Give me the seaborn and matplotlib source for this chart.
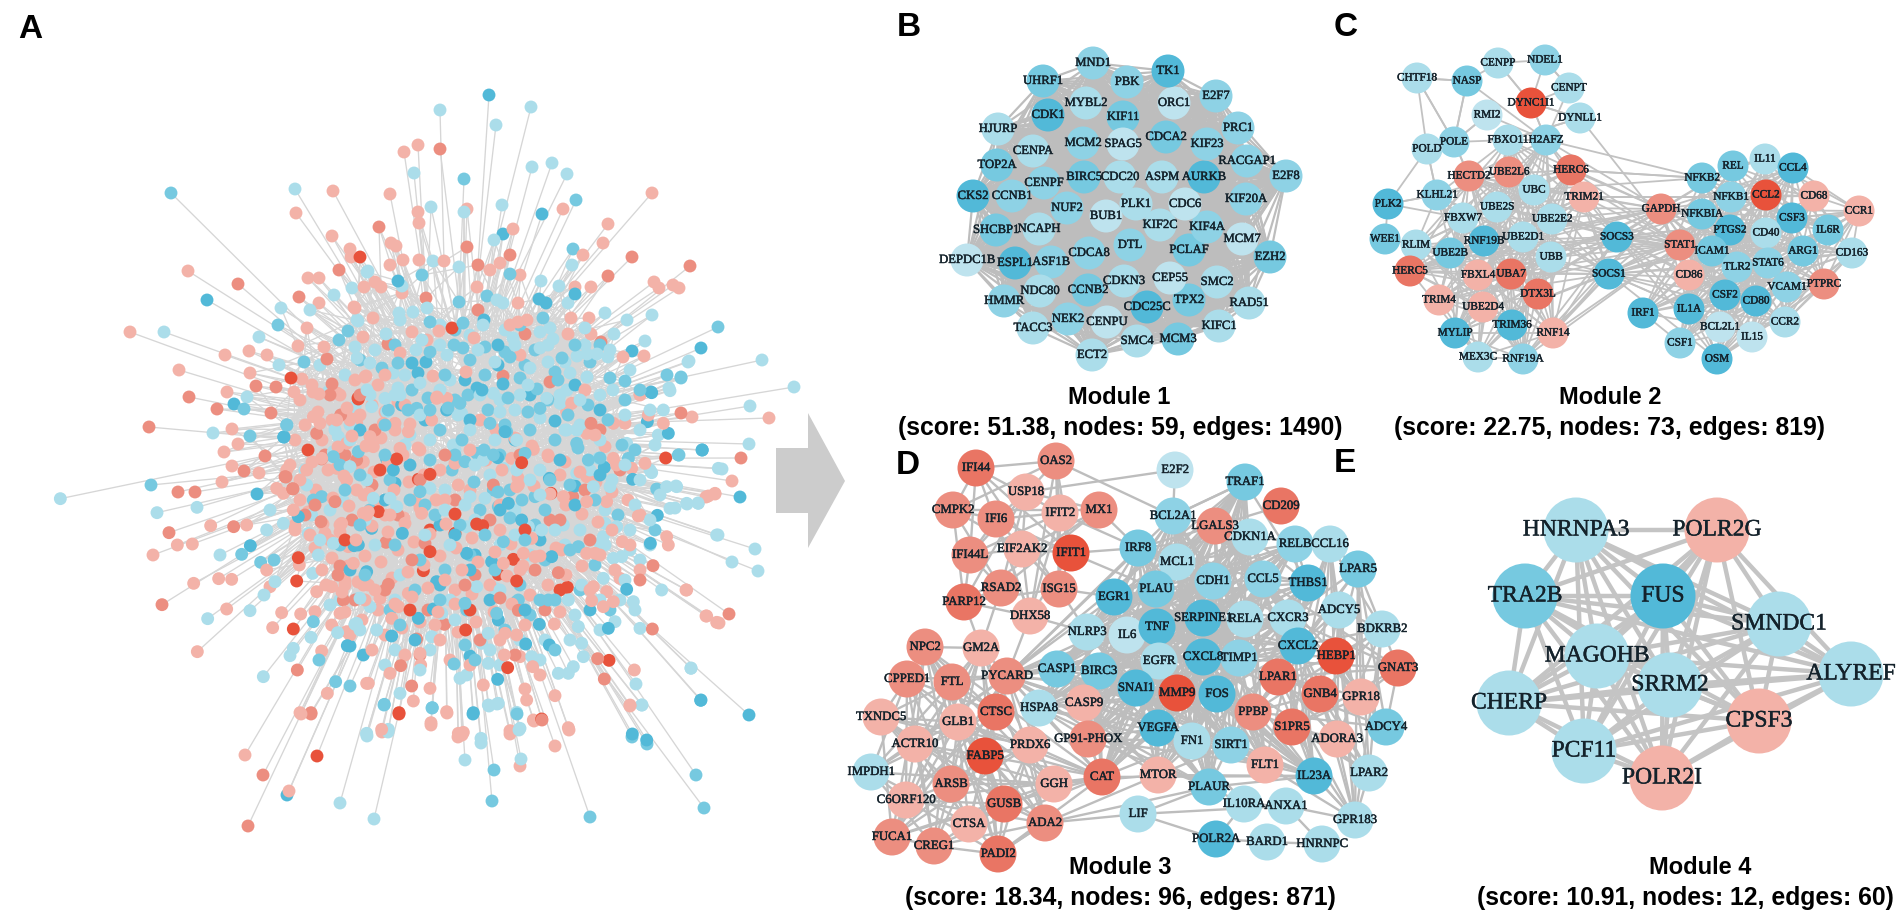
#!/usr/bin/env python3
from itertools import combinations

import numpy as np
import pandas as pd
import matplotlib
matplotlib.use("Agg")
import matplotlib.pyplot as plt
import matplotlib.patheffects as pe
from matplotlib.collections import LineCollection
import seaborn as sns

PALETTE = {"b0": "#BEE3EE", "b1": "#ABDDEA", "b2": "#8ED2E5", "b3": "#76C9E0", "b4": "#52B9D8",
           "r1": "#F3B2A8", "r2": "#EC8E80", "r3": "#E97564", "r4": "#E8523B"}

# Panel A, nodes read in figure pixels
A_R4 = [(360,257),(291,378),(452,328),(358,398),(308,450),(399,714),(317,756)]
A_R2 = [(339,270),(238,284),(299,297),(327,359),(256,386),(276,387),(332,384),(189,397),(440,149),(379,227),
        (467,247),(510,255),(632,257),(690,266),(478,265),(608,276),(426,298),(478,310),(388,344),(525,334),
        (601,342),(550,382),(503,376),(741,458),(681,413),(729,614),(263,775),(311,714),(248,826),(542,720),
        (217,409),(149,427),(271,413),(265,456),(244,471),(286,477),(178,492),(195,492),(293,489)]
A_R1 = [(333,191),(296,213),(332,236),(350,249),(351,257),(188,271),(308,278),(319,278),(364,287),(319,303),
        (354,307),(307,328),(130,332),(298,346),(324,347),(363,337),(249,351),(225,355),(267,355),(179,370),
        (250,373),(302,379),(365,377),(227,392),(294,392),(313,392),(319,394),(337,393),(418,145),(404,152),
        (652,193),(390,194),(418,212),(419,223),(467,209),(563,209),(608,224),(513,229),(391,243),(396,246),
        (583,255),(603,243),(390,265),(403,260),(419,260),(444,261),(490,270),(500,263),(520,275),(375,282),
        (381,287),(575,287),(591,287),(654,282),(659,288),(673,285),(679,288),(477,287),(402,293),(518,303),
        (571,318),(589,318),(355,308),(373,318),(510,325),(518,322),(527,320),(412,332),(439,331),(427,340),
        (474,338),(568,334),(591,334),(644,356),(623,357),(640,394),(585,390),(520,355),(466,372),(433,376),
        (366,376),(378,385),(400,353),(437,397),(692,417),(769,418),(732,481),(706,497),(715,494),(686,590),
        (706,616),(719,623),(245,755),(301,714),(289,791),(382,732),(431,725),(447,713),(458,737),(462,735),
        (510,734),(520,766),(534,721),(569,730),(555,746),(630,706),(232,429),(238,444),(224,452),(232,466),
        (259,473),(222,482)]
A_B4 = [(207,300),(489,95),(542,214),(503,234),(398,281),(575,294),(539,299),(546,303),(484,320),(498,345),
        (632,351),(701,348),(651,392),(498,365),(503,384),(477,388),(482,390),(426,362),(412,363),(418,373),
        (702,450),(740,497),(701,700),(749,715),(287,795),(473,714),(234,404),(284,437),(257,494)]
A_B3 = [(171,193),(278,325),(348,331),(339,340),(304,362),(464,179),(576,200),(573,249),(510,274),(487,296),
        (459,302),(543,318),(463,323),(430,322),(718,327),(667,375),(681,378),(625,381),(558,380),(537,389),
        (562,358),(525,365),(510,357),(485,347),(463,348),(454,345),(398,363),(382,368),(681,377),(679,455),
        (384,705),(432,708),(494,770),(492,801),(517,714),(632,737),(647,744),(696,775),(704,808),(590,817),
        (244,409),(250,436),(287,425),(151,485),(422,275)]
A_B1 = [(295,189),(367,272),(352,288),(334,295),(281,308),(310,310),(357,320),(259,337),(164,332),(279,365),
        (367,390),(328,392),(247,397),(440,110),(531,107),(496,125),(414,173),(532,167),(552,163),(567,174),
        (431,207),(464,212),(502,205),(494,240),(433,261),(459,267),(572,265),(368,271),(541,281),(559,286),
        (402,286),(497,300),(503,303),(568,303),(605,313),(627,320),(652,315),(427,308),(413,312),(399,313),
        (400,320),(358,321),(386,334),(483,325),(540,332),(553,339),(614,334),(645,341),(577,356),(587,354),
        (597,354),(608,357),(689,361),(669,388),(587,377),(570,373),(613,390),(567,390),(548,362),(540,348),
        (513,338),(528,385),(450,380),(447,355),(420,383),(398,388),(393,373),(416,350),(370,363),(357,358),
        (355,347),(794,387),(688,362),(762,360),(750,406),(749,444),(722,469),(676,486),(675,508),(687,504),
        (698,503),(718,535),(755,549),(732,562),(758,571),(691,668),(367,736),(388,732),(340,803),(374,819),
        (489,706),(497,704),(481,743),(465,760),(519,730),(521,759),(642,705),(213,433)]

RIGHT_R4 = [(25,27),(140,207),(240,253),(205,268),(85,365),(315,372),(398,407),(380,402),(315,430),(240,485),
            (220,542),(500,573),(652,592),(445,553),(490,508),(515,218),(947,204),(347,720),(473,833),(147,968),
            (575,987),(777,811),(603,310)]
RIGHT_R2 = [(723,100),(108,457),(225,460),(625,548),(505,661),(283,703),(200,747),(152,827),(185,888),(743,806),
            (763,867),(907,717),(909,527),(870,570),(430,285),(668,320),(600,390),(115,583),(20,210)]
RIGHT_R1 = [(10,65),(135,100),(175,125),(100,100),(60,140),(70,170),(40,215),(210,180),(260,25),(290,25),
            (245,90),(150,175),(315,220),(325,285),(285,330),(215,370),(55,365),(165,400),(120,375),(500,290),
            (505,285),(550,178),(595,200),(485,205),(450,420),(545,445),(520,490),(460,520),(510,540),(635,480),
            (735,490),(710,490),(555,500),(315,600),(175,610),(90,625),(55,585),(145,650),(125,685),(210,790),
            (212,825),(120,850),(55,880),(240,895),(190,933),(290,965),(243,998),(95,1018),(325,1030),(340,1027),
            (480,1022),(550,990),(655,1013),(615,917),(530,930),(525,897),(570,855),(400,885),(510,800),(463,795),
            (548,830),(500,735),(465,730),(613,702),(725,632),(770,605),(790,635),(760,650),(730,590),(810,565),
            (870,540),(817,455),(865,378),(1010,600),(1070,678),(1100,697),(853,840),(840,945),(950,440),(955,465),
            (1075,318),(1095,310),(940,100),(895,75),(870,15),(790,100),(825,100),(885,220),(790,205),(800,225),
            (845,235),(710,260),(640,320),(710,335),(770,335),(665,40),(650,65),(710,130),(765,170),(735,135)]
RIGHT_B1 = [(150,15),(105,25),(65,50),(110,65),(15,50),(335,70),(360,95),(450,30),(430,10),(495,60),
            (630,40),(590,25),(650,120),(680,120),(500,150),(400,210),(310,165),(240,295),(120,325),(70,325),
            (360,320),(405,325),(140,350),(285,360),(350,410),(535,410),(640,405),(575,420),(495,435),(500,240),
            (460,235),(680,250),(730,290),(780,290),(745,205),(830,160),(940,60),(905,248),(980,290),(950,290),
            (960,355),(1010,340),(1045,340),(765,400),(760,440),(800,410),(750,460),(840,480),(790,505),(815,500),
            (695,585),(760,565),(655,630),(850,635),(855,660),(795,695),(685,710),(695,760),(700,800),(380,590),
            (435,595),(30,625),(135,630),(20,700),(80,720),(245,740),(415,730),(395,760),(415,820),(545,800),
            (625,850),(655,850),(670,830),(330,865),(350,855),(150,910),(415,945),(445,940),(500,967),(510,1015),
            (50,1032),(115,1018),(393,1045),(960,2),(935,600),(1023,835),(875,945),(858,882),(870,715),(1100,435),
            (1105,235),(925,135),(275,670),(60,650)]
RIGHT_B3 = [(570,55),(200,55),(240,60),(330,40),(315,30),(420,100),(470,125),(380,190),(345,215),(210,305),
            (115,60),(430,300),(445,350),(555,320),(525,190),(430,195),(835,205),(680,160),(715,210),(460,455),
            (570,630),(595,630),(345,640),(350,660),(440,670),(685,470),(505,630),(312,822),(920,297),(103,943),
            (247,953),(985,195)]
RIGHT_B4 = [(390,5),(155,45),(905,8),(290,60),(615,93),(465,125),(25,465),(892,95),(955,130),(443,203),
            (110,207),(763,232),(598,265),(675,288),(848,268),(130,240),(135,280),(65,415),(157,430),(270,405),
            (375,495),(515,390),(475,340),(605,500),(425,515),(360,540),(260,575),(12,467),(350,490),(830,598),
            (922,376),(901,460),(1057,180),(250,657),(445,690),(568,703),(500,635),(775,715),(527,762),(598,765),
            (360,798),(443,868),(370,968),(1052,931),(847,1032),(890,1050),(40,795),(125,738),(0,768),(205,685)]
LEFT_R1 = [(940,80),(960,100),(1010,90),(1025,75),(1050,90),(1070,100),(1030,160),(1040,160),(965,205),(920,240),
           (1010,235),(1040,270),(1070,300),(1105,310),(1090,370),(830,295),(850,310),(880,360),(1025,400),(975,430),
           (1020,405),(885,405),(740,405),(632,407),(532,465),(577,462),(459,495),(656,566),(695,568),(581,580),
           (800,540),(810,590),(898,525),(950,605),(995,590),(1035,572),(845,668),(902,672),(945,665),(1020,670),
           (995,705),(1040,725),(818,713),(680,657),(592,785),(965,783),(982,910),(900,968),(1100,880),(1045,470),
           (1060,520),(1090,585),(860,240),(1100,375)]
LEFT_R2 = [(701,410),(507,428),(486,644),(1020,528),(963,395),(855,260),(878,296),(1030,630),(892,840),(933,968),
           (950,130),(1022,75),(1060,65),(965,207),(1005,335)]
LEFT_R4 = [(890,573),(895,503),(880,717)]
LEFT_B1 = [(810,360),(850,400),(800,420),(925,430),(935,375),(1030,333),(1000,95),(1015,140),(1050,230),(1000,185),
           (920,285),(955,495),(938,550),(825,575),(792,615),(750,662),(623,686),(990,645),(1075,625),(1065,703),
           (1013,728),(933,742),(880,775),(870,797),(790,860),(1100,1030),(471,368),(591,352),(181,326),(660,495),
           (1100,270),(1000,460),(1050,150)]
LEFT_B3 = [(725,493),(782,517),(822,510),(1075,185),(940,330),(965,320),(1000,200),(860,105),(957,810),(1007,875),
           (1050,888),(1090,795),(940,695),(1080,405),(1062,467)]
LEFT_B4 = [(851,141),(751,467),(1042,767),(1100,545),(895,380)]

# Panel A, the packed middle: too overlapped to read one by one, placed by eye
FILL_R1 = [(318,412),(332,420),(347,408),(360,415),(372,405),(385,412),(398,402),(305,425),(322,440),(338,447),
           (352,436),(366,446),(381,438),(395,430),(410,424),(312,462),(328,470),(344,476),(358,466),(374,472),
           (388,462),(403,455),(418,448),(300,480),(316,490),(333,498),(349,506),(364,495),(379,503),(394,490),
           (409,482),(424,475),(308,512),(323,524),(340,532),(356,540),(372,526),(388,532),(404,518),(420,508),
           (436,500),(315,548),(332,558),(348,566),(365,556),(381,562),(398,550),(414,542),(430,534),(446,524),
           (326,585),(342,592),(358,582),(375,590),(392,578),(408,572),(424,565),(440,556),(456,548),(472,538),
           (345,612),(362,620),(378,610),(395,604),(412,597),(428,588),(445,580),(462,570),(478,562),(495,552),
           (511,544),(385,635),(402,628),(420,622),(438,612),(455,604),(472,594),(490,585),(507,576),(523,566),
           (540,556),(556,548),(440,640),(458,632),(476,622),(494,612),(512,604),(530,595),(548,585),(566,575),
           (582,566),(600,555),(470,450),(486,460),(502,470),(518,478),(534,486),(550,494),(566,505),(582,514),
           (598,522),(612,530),(480,420),(496,430),(515,438),(532,446),(548,455),(565,462),(580,472),(596,482),
           (612,492),(628,500),(300,400),(312,385),(340,395),(355,380),(385,375),(405,405),(295,440),(290,465),
           (300,500),(295,530),(310,535),(330,540),(322,570),(345,585),(365,600),(350,635),(372,650),(405,655),
           (435,625),(450,660),(470,665),(500,640),(525,625),(560,612),(590,590),(615,570),(630,545),(640,515),
           (500,505),(470,490),(415,500),(385,515),(440,470),(560,475)]
FILL_R2 = [(330,395),(345,455),(372,485),(315,505),(398,515),(352,520),(412,560),(338,575),(385,590),(428,610),
           (465,585),(500,598),(535,570),(455,500),(490,520),(520,455),(560,520),(590,540),(620,470),(545,610),
           (480,640),(420,480),(375,430),(600,430),(325,455),(305,515),(355,600),(420,655),(515,655),(475,575),
           (445,455),(585,490),(360,395)]
FILL_R4 = [(380,470),(430,530),(470,610),(525,530),(345,540),(410,610),(560,590)]
FILL_B3 = [(395,345),(412,390),(430,352),(445,375),(470,360),(485,375),(505,352),(520,378),(535,350),(555,372),
           (575,345),(590,362),(610,378),(625,400),(385,425),(408,410),(428,398),(448,408),(468,395),(488,410),
           (508,398),(528,412),(548,400),(568,415),(588,405),(608,420),(440,430),(462,440),(484,450),(505,425),
           (530,430),(555,440),(578,448),(600,458),(622,445),(430,460),(452,470),(474,482),(498,492),(522,500),
           (545,510),(570,485),(595,500),(618,515),(360,475),(390,480),(345,490),(410,500),(435,515),(460,525),
           (485,535),(510,518),(535,525),(370,510),(395,545),(420,560),(445,570),(470,555),(495,570),(520,585),
           (545,560),(570,550),(595,565),(340,545),(365,575),(390,610),(415,590),(440,600),(465,645),(505,630),
           (530,615),(555,600),(580,590),(360,360),(455,330),(520,325),(600,345),(640,390),(635,450),(655,530),
           (610,610),(555,650),(475,660),(400,625),(425,505),(510,490),(550,480),(480,510),(525,540),(455,455),
           (500,455),(385,455),(340,465)]
FILL_B1 = [(405,375),(422,340),(440,345),(478,350),(495,362),(515,345),(530,368),(548,345),(565,362),(585,345),
           (600,395),(625,415),(640,430),(395,395),(420,415),(440,390),(458,415),(480,395),(500,412),(520,395),
           (540,418),(560,395),(580,425),(600,440),(625,465),(640,480),(350,425),(370,395),(455,450),(475,465),
           (495,440),(520,465),(540,470),(565,430),(590,470),(612,480),(635,505),(650,470),(405,445),(430,440),
           (445,490),(465,505),(490,475),(515,510),(540,495),(580,530),(605,545),(630,530),(650,520),(330,510),
           (375,545),(400,575),(425,535),(450,545),(475,520),(500,545),(530,555),(555,530),(340,600),(360,630),
           (395,650),(430,650),(455,620),(490,650),(520,640),(545,640),(575,615),(600,600),(625,580),(640,560),
           (320,365),(345,375),(375,350),(440,325),(470,335),(505,330),(550,328),(585,328),(610,350),(630,370),
           (650,410),(655,445),(660,495),(650,545),(620,600),(600,630),(570,640),(540,660),(500,665),(420,670),
           (385,665),(470,430),(530,480),(580,400),(410,435),(445,510),(500,590),(450,600),(320,540),(305,470),
           (335,430),(365,520),(605,510),(565,545)]
FILL_B4 = [(425,420),(470,420),(515,440),(560,460),(600,475),(410,465),(455,535),(500,510),(540,540),(575,505),
           (385,500),(360,430),(440,585),(490,600),(525,610),(465,380),(530,395),(575,385),(600,410),(350,570),
           (415,640),(590,610)]

# Module 1
B_NAMES = ["MND1","UHRF1","PBK","MYBL2","CDK1","KIF11","HJURP","CENPA","MCM2","SPAG5",
           "TOP2A","CENPF","BIRC5","CDC20","CKS2","CCNB1","NUF2","BUB1","PLK1","SHCBP1",
           "NCAPH","DTL","DEPDC1B","ESPL1","ASF1B","CDCA8","NDC80","CCNB2","CDKN3","HMMR",
           "TACC3","NEK2","CENPU","ECT2","SMC4","MCM3","CDC25C","TPX2","CEP55","SMC2",
           "RAD51","KIFC1","EZH2","MCM7","PCLAF","KIF4A","KIF2C","CDC6","KIF20A","AURKB",
           "ASPM","E2F8","RACGAP1","KIF23","CDCA2","PRC1","E2F7","ORC1","TK1"]
B_X = [1093,1043,1127,1086,1048,1123,998,1033,1083,1123,
       997,1044,1084,1120,973,1012,1067,1106,1136,996,
       1039,1130,967,1015,1051,1089,1040,1088,1124,1004,
       1033,1068,1107,1092,1137,1178,1147,1189,1170,1217,
       1249,1219,1270,1242,1189,1207,1160,1185,1246,1204,
       1162,1286,1247,1207,1166,1238,1216,1174,1168]
B_Y = [63,81,82,103,115,117,129,151,143,144,
       165,183,177,177,196,196,208,216,204,230,
       229,245,260,263,262,253,291,290,281,301,
       328,319,322,355,341,339,307,300,278,282,
       303,326,257,239,250,227,225,204,199,177,
       177,176,161,144,137,128,96,103,71]
B_LEVEL = ["b2","b3","b2","b1","b4","b3","b1","b1","b2","b0",
           "b3","b2","b3","b1","b4","b2","b2","b0","b1","b3",
           "b1","b2","b0","b4","b2","b2","b1","b3","b1","b2",
           "b1","b2","b0","b1","b1","b3","b4","b3","b0","b1",
           "b1","b1","b3","b0","b3","b2","b1","b0","b2","b4",
           "b1","b2","b2","b2","b3","b2","b2","b0","b4"]

# Module 2
C_NAMES = ["CENPP","NDEL1","CHTF18","NASP","CENPT","DYNC1I1","DYNLL1","RMI2","H2AFZ","FBXO11",
           "POLE","POLD","HERC6","HECTD2","UBE2L6","UBC","TRIM21","KLHL21","UBE2S","PLK2",
           "FBXW7","UBE2E2","WEE1","RLIM","RNF19B","UBE2D1","UBE2B","UBB","HERC5","FBXL4",
           "UBA7","DTX3L","TRIM4","UBE2D4","MYLIP","TRIM36","RNF14","MEX3C","RNF19A","SOCS3",
           "SOCS1","GAPDH","STAT1","NFKB2","REL","IL11","CCL4","NFKB1","CCL2","CD68",
           "CCR1","NFKBIA","CSF3","PTGS2","CD40","IL6R","ICAM1","ARG1","CD163","TLR2",
           "STAT6","CD86","PTPRC","VCAM1","CSF2","CD80","IL1A","IRF1","CCR2","BCL2L1",
           "IL15","CSF1","OSM"]
C_X = [1498,1545,1417,1467,1569,1531,1580,1487,1546,1508,
       1454,1427,1571,1469,1509,1534,1584,1437,1497,1388,
       1463,1552,1385,1416,1484,1523,1450,1551,1410,1478,
       1511,1538,1439,1483,1455,1512,1553,1478,1523,1617,
       1609,1661,1680,1702,1733,1765,1793,1731,1766,1814,
       1859,1702,1792,1730,1766,1828,1712,1803,1852,1737,
       1768,1689,1824,1787,1725,1756,1689,1643,1785,1720,
       1752,1680,1717]
C_Y = [63,60,78,81,88,103,118,115,140,140,
       142,149,170,176,172,190,197,195,207,204,
       218,219,239,245,241,237,253,257,271,275,
       274,294,300,307,333,325,333,357,359,237,
       274,209,245,178,166,159,168,197,195,196,
       211,214,218,230,233,230,251,251,253,267,
       263,275,284,287,295,301,309,313,322,327,
       337,343,359]
C_LEVEL = ["b1","b2","b1","b3","b1","r4","b1","b0","b2","b1",
           "b2","b1","r3","r2","r2","b1","r1","b2","b1","b4",
           "b1","b1","b3","b1","b4","b1","b3","b1","r3","r1",
           "r3","r3","r1","r1","b4","b4","r1","b1","b2","b4",
           "b4","r2","r2","b3","b3","b1","b4","b2","r4","r1",
           "r1","b3","b4","b4","b1","b3","b3","b3","b1","b2",
           "b2","r1","r2","b2","b4","b4","b4","b4","b1","b0",
           "b0","b2","b4"]
C_LEFT = ["FBXO11","H2AFZ","HECTD2","UBE2L6","HERC6","UBC","TRIM21","KLHL21","UBE2S","FBXW7",
          "UBE2E2","RLIM","RNF19B","UBE2D1","UBE2B","UBB","HERC5","FBXL4","UBA7","DTX3L",
          "TRIM4","UBE2D4","MYLIP","TRIM36","RNF14","MEX3C","RNF19A"]
C_RIGHT = ["NFKB2","REL","IL11","CCL4","NFKB1","CCL2","CD68","CCR1","NFKBIA","CSF3",
           "PTGS2","CD40","IL6R","ICAM1","ARG1","CD163","TLR2","STAT6","CD86","PTPRC",
           "VCAM1","CSF2","CD80","IL1A","IRF1","CCR2","BCL2L1","IL15","CSF1","OSM"]
C_BRIDGE = ["SOCS3","SOCS1","GAPDH","STAT1"]
C_EXTRA = [("CHTF18","NASP"),("CHTF18","POLD"),("CHTF18","POLE"),("NASP","CENPP"),("NASP","POLE"),
           ("CENPP","NDEL1"),("CENPP","DYNC1I1"),("NDEL1","DYNC1I1"),("NDEL1","CENPT"),("DYNC1I1","CENPT"),
           ("DYNC1I1","DYNLL1"),("CENPT","H2AFZ"),("DYNC1I1","H2AFZ"),("NASP","H2AFZ"),("RMI2","POLE"),
           ("RMI2","H2AFZ"),("POLE","POLD"),("POLD","PLK2"),("POLD","KLHL21"),("POLE","FBXO11"),
           ("POLE","HECTD2"),("PLK2","WEE1"),("PLK2","KLHL21"),("PLK2","FBXW7"),("WEE1","RLIM"),
           ("DYNLL1","STAT1"),("DYNLL1","FBXO11"),("H2AFZ","NFKB2"),("HERC6","NFKB2"),("UBC","NFKB2"),
           ("TRIM21","NFKB1"),("H2AFZ","GAPDH")]

# Module 3
D_NAMES = ["E2F2","OAS2","IFI44","USP18","CMPK2","IFI6","IFIT2","MX1","BCL2A1","TRAF1",
           "CD209","LGALS3","CDKN1A","RELB","CCL16","LPAR5","IFI44L","EIF2AK2","IFIT1","IRF8",
           "MCL1","CDH1","CCL5","THBS1","RSAD2","ISG15","EGR1","PLAU","PARP12","DHX58",
           "NLRP3","IL6","TNF","SERPINE1","RELA","CXCR3","ADCY5","BDKRB2","GM2A","NPC2",
           "CPPED1","FTL","PYCARD","CASP1","BIRC3","EGFR","CXCL8","TIMP1","CXCL2","HEBP1",
           "GNAT3","LPAR1","SNAI1","MMP9","FOS","GNB4","GPR18","CTSC","HSPA8","CASP9",
           "PPBP","S1PR5","ADORA3","ADCY4","TXNDC5","GLB1","VEGFA","FN1","SIRT1","ACTR10",
           "FABP5","PRDX6","GP91-PHOX","FLT1","IL23A","LPAR2","IMPDH1","ARSB","GGH","CAT",
           "MTOR","PLAUR","C6ORF120","GUSB","LIF","IL10RA","ANXA1","GPR183","CTSA","ADA2",
           "FUCA1","CREG1","PADI2","POLR2A","BARD1","HNRNPC"]
D_X = [1175,1056,976,1026,953,996,1060,1099,1173,1245,
       1281,1215,1250,1295,1330,1358,970,1022,1071,1138,
       1177,1213,1263,1308,1001,1059,1114,1156,964,1030,
       1087,1127,1157,1203,1245,1288,1339,1382,981,925,
       907,952,1007,1057,1099,1159,1203,1239,1298,1336,
       1398,1278,1136,1177,1217,1320,1361,996,1039,1084,
       1253,1292,1337,1386,881,958,1158,1192,1231,915,
       985,1030,1088,1265,1314,1369,871,951,1054,1102,
       1158,1209,906,1004,1138,1244,1286,1355,969,1045,
       892,934,998,1216,1267,1322]
D_Y = [470,461,468,492,510,519,513,510,516,482,
       506,526,537,544,544,569,555,549,553,548,
       562,581,579,583,588,589,597,589,602,616,
       632,635,627,618,619,618,610,629,648,647,
       679,682,676,669,671,661,657,658,646,656,
       668,677,688,693,694,694,697,712,708,703,
       712,727,739,727,717,722,728,741,745,744,
       756,745,739,765,776,773,772,784,784,777,
       775,787,800,804,814,804,806,820,824,823,
       837,846,854,839,842,844]
D_LEVEL = ["b0","r2","r3","r1","r2","r2","r1","r2","b2","b3",
           "r3","r2","b1","b2","b1","b3","r2","r1","r4","b3",
           "b1","b2","b2","b4","r2","r2","b4","b3","r3","r1",
           "b1","b0","b4","b4","b1","b1","b1","b1","r1","r2",
           "r2","r2","r2","b3","b3","b1","b4","b2","b4","r4",
           "r3","r3","b4","r4","b4","r3","r1","r3","b1","r1",
           "r2","r3","r1","b3","r1","r1","b4","b1","b2","r1",
           "r4","r1","r2","r1","b4","b1","b1","r2","r1","r3",
           "r1","b3","r1","r3","b1","b1","b1","b1","r1","r2",
           "r2","r2","r3","b4","b1","b1"]
D_IFN = ["IFI44","OAS2","USP18","CMPK2","IFI6","IFIT2","MX1","IFI44L","EIF2AK2","IFIT1","RSAD2","ISG15","PARP12","DHX58"]
D_LYSO = ["NPC2","GM2A","CPPED1","FTL","TXNDC5","GLB1","CTSC","ACTR10","FABP5","PRDX6","IMPDH1","ARSB",
          "C6ORF120","GUSB","CTSA","FUCA1","CREG1","PADI2","GGH","ADA2","PYCARD","CAT"]
D_CORE = ["IRF8","MCL1","CDH1","CCL5","EGR1","PLAU","NLRP3","IL6","TNF","SERPINE1","RELA","CXCR3","EGFR",
          "CXCL8","TIMP1","CXCL2","CASP1","BIRC3","SNAI1","MMP9","FOS","VEGFA","FN1","SIRT1","CASP9","HSPA8",
          "GP91-PHOX","MTOR","CAT","PYCARD","BCL2A1","CDKN1A","RELB","THBS1","TRAF1","LGALS3","PLAUR","IL23A","FLT1"]
D_GPCR = ["CXCR3","ADCY5","BDKRB2","GNAT3","HEBP1","LPAR1","GNB4","GPR18","PPBP","S1PR5","ADORA3","ADCY4",
          "LPAR2","LPAR5","CCL16","CCL5","CXCL2","CXCL8","GPR183"]
D_EXTRA = [("E2F2","USP18"),("E2F2","BCL2A1"),("OAS2","BCL2A1"),("TRAF1","LGALS3"),("TRAF1","BCL2A1"),
           ("CD209","LGALS3"),("LIF","ADA2"),("LIF","PLAUR"),("LIF","ANXA1"),("ADA2","MTOR"),("ADA2","PLAUR"),
           ("POLR2A","BARD1"),("BARD1","HNRNPC"),("GPR183","ANXA1"),("ANXA1","IL10RA"),("POLR2A","IL10RA"),
           ("LIF","POLR2A"),("PARP12","GM2A"),("RSAD2","GM2A"),("DHX58","NLRP3"),("DHX58","PYCARD"),
           ("ISG15","EGR1"),("IFIT1","IRF8"),("ISG15","NLRP3"),("IFIT2","IRF8"),("MX1","IRF8"),("IFIT1","PLAU"),
           ("HNRNPC","ANXA1"),("PLAUR","IL10RA"),("GPR183","LPAR2"),("GPR183","IL23A"),("GPR183","FLT1"),
           ("PADI2","ADA2"),("MTOR","GGH"),("CAT","GGH"),("CAT","GP91-PHOX"),("MTOR","VEGFA"),("FLT1","VEGFA"),
           ("FLT1","FN1"),("IL23A","SIRT1"),("IL10RA","FN1"),("PLAUR","FN1"),("PLAUR","VEGFA")]

# Module 4
E_NAMES = ["HNRNPA3","POLR2G","TRA2B","FUS","SMNDC1","MAGOHB","ALYREF","CHERP","SRRM2","CPSF3","PCF11","POLR2I"]
E_X = [1576,1717,1525,1663,1779,1597,1851,1509,1670,1759,1584,1662]
E_Y = [530,530,596,596,624,656,674,703,685,721,751,778]
E_LEVEL = ["b1","r1","b3","b4","b1","b1","b1","b1","b1","r1","b1","r1"]

PANEL_LETTERS = ["A","B","C","D","E"]
LETTER_X = [30,909,1346,908,1345]
LETTER_Y = [30,28,28,465,464]
TITLES = ["Module 1","Module 2","Module 3","Module 4"]
SUBTITLES = ["(score: 51.38, nodes: 59, edges: 1490)","(score: 22.75, nodes: 73, edges: 819)",
             "(score: 18.34, nodes: 96, edges: 871)","(score: 10.91, nodes: 12, edges: 60)"]
TITLE_X = [1119,1610,1120,1700]
SUBTITLE_X = [1120,1610,1120,1685]
TITLE_Y = [397,397,868,868]
SUBTITLE_Y = [428,428,898,898]
ARROW_X = [776,808,808,845,808,808,776]
ARROW_Y = [448,448,413,481,548,513,513]


def from_crop(pts, x0, y0):
    return [(x0 + a / 3, y0 + b / 3) for a, b in pts]


def add_level(frames, pts, level):
    d = pd.DataFrame(pts, columns=["x", "y"])
    d["level"] = level
    frames.append(d)


frames = []
for pts, level in [(A_R4,"r4"),(A_R2,"r2"),(A_R1,"r1"),(A_B4,"b4"),(A_B3,"b3"),(A_B1,"b1"),
                   (FILL_R4,"r4"),(FILL_R2,"r2"),(FILL_R1,"r1"),(FILL_B4,"b4"),(FILL_B3,"b3"),(FILL_B1,"b1"),
                   (from_crop(RIGHT_R4,350,390),"r4"),(from_crop(RIGHT_R2,350,390),"r2"),
                   (from_crop(RIGHT_R1,350,390),"r1"),(from_crop(RIGHT_B1,350,390),"b1"),
                   (from_crop(RIGHT_B3,350,390),"b3"),(from_crop(RIGHT_B4,350,390),"b4"),
                   (from_crop(LEFT_R1,0,390),"r1"),(from_crop(LEFT_R2,0,390),"r2"),
                   (from_crop(LEFT_R4,0,390),"r4"),(from_crop(LEFT_B1,0,390),"b1"),
                   (from_crop(LEFT_B3,0,390),"b3"),(from_crop(LEFT_B4,0,390),"b4")]:
    add_level(frames, pts, level)
net = pd.concat(frames, ignore_index=True).drop_duplicates(["x", "y"]).reset_index(drop=True)
# colours overlap at random in the layout, so mix the drawing order
net = net.iloc[np.argsort((net.x.values * 37 + net.y.values * 91) % 101, kind="stable")].reset_index(drop=True)

# edges of panel A: each node is tied to the nodes lying inward of it
xy = net[["x", "y"]].values
centre = np.array([450, 440])
dist = np.hypot(*(xy - centre).T)
core = xy[dist < 190]
a_edges = []
for i, p in enumerate(xy):
    if dist[i] >= 240:
        v = (p - centre) * 0.5
        a_edges.append((p, core[np.argmin(np.hypot(*(core - centre - v).T))]))
    elif dist[i] >= 170:
        for f, turn in [(0.55, 0.0), (0.3, 0.3)]:
            v = (p - centre) * f
            v = np.array([v[0] - turn * v[1], v[1] + turn * v[0]])
            a_edges.append((p, core[np.argmin(np.hypot(*(core - centre - v).T))]))
    else:
        near = xy[(np.hypot(*(xy - p).T) < 70) & (np.hypot(*(xy - p).T) > 10)]
        for q in near[::12]:
            a_edges.append((p, q))


def module_frame(names, xs, ys, levels):
    assert len(names) == len(xs) == len(ys) == len(levels)
    return pd.DataFrame({"name": names, "x": xs, "y": ys, "level": levels}).set_index("name", drop=False)


def segments(frame, pairs):
    return [((frame.x[a], frame.y[a]), (frame.x[b], frame.y[b])) for a, b in pairs]


mod_b = module_frame(B_NAMES, B_X, B_Y, B_LEVEL)
mod_c = module_frame(C_NAMES, C_X, C_Y, C_LEVEL)
mod_d = module_frame(D_NAMES, D_X, D_Y, D_LEVEL)
mod_e = module_frame(E_NAMES, E_X, E_Y, E_LEVEL)

c_pairs = list(combinations(C_LEFT, 2)) + list(combinations(C_RIGHT, 2)) + C_EXTRA
c_pairs = c_pairs[::2] + C_EXTRA
c_pairs += [(a, b) for a in C_BRIDGE for b in (C_LEFT + C_RIGHT)[::2]]
d_pairs = D_EXTRA[:]
for group in (D_IFN, D_LYSO, D_CORE, D_GPCR):
    d_pairs += list(combinations(group, 2))[::2]

fig = plt.figure(figsize=(19.01, 9.23), dpi=100)
ax = fig.add_axes([0, 0, 1, 1])

ax.add_collection(LineCollection(a_edges, colors="#D6D6D6", linewidths=0.95, zorder=1))
sns.scatterplot(data=net, x="x", y="y", hue="level", palette=PALETTE, s=86, linewidth=0,
                legend=False, ax=ax, zorder=2)

ax.fill(ARROW_X, ARROW_Y, color="#CCCCCC", lw=0, zorder=1)

panels = [(mod_b, list(combinations(B_NAMES, 2)), 1.6, 16.5, 9.1, "#BDBDBD"),
          (mod_c, c_pairs, 1.3, 15.5, 8.1, "#C2C2C2"),
          (mod_d, d_pairs, 1.7, 18.5, 9.2, "#BDBDBD"),
          (mod_e, list(combinations(E_NAMES, 2)), 3.2, 32.5, 17, "#C4C4C4")]
for frame, pairs, lw, radius, fsize, ecol in panels:
    ax.add_collection(LineCollection(segments(frame, pairs), colors=ecol, linewidths=lw, zorder=3))
    sns.scatterplot(data=frame, x="x", y="y", hue="level", palette=PALETTE,
                    s=(2 * radius * 0.72) ** 2, linewidth=0, legend=False, ax=ax, zorder=4)
    for name, x, y in zip(frame.name, frame.x, frame.y):
        ax.text(x, y, name, ha="center", va="center", fontsize=fsize, color="#14222B",
                family="Liberation Serif", zorder=5,
                path_effects=[pe.withStroke(linewidth=0.3, foreground="#14222B")])

for s, x, y in zip(PANEL_LETTERS, LETTER_X, LETTER_Y):
    ax.text(x, y, s, ha="center", va="center", fontsize=24, fontweight="bold",
            family="Liberation Sans", color="black", zorder=6)
for s, x, y in zip(TITLES, TITLE_X, TITLE_Y):
    ax.text(x, y, s, ha="center", va="center", fontsize=17, fontweight="bold",
            family="Liberation Sans", color="black", zorder=6)
for s, x, y in zip(SUBTITLES, SUBTITLE_X, SUBTITLE_Y):
    ax.text(x, y, s, ha="center", va="center", fontsize=17.8, fontweight="bold",
            family="Liberation Sans", color="black", zorder=6)

ax.set_xlim(0, 1901)
ax.set_ylim(923, 0)
ax.axis("off")
fig.savefig("out.png", dpi=100)
